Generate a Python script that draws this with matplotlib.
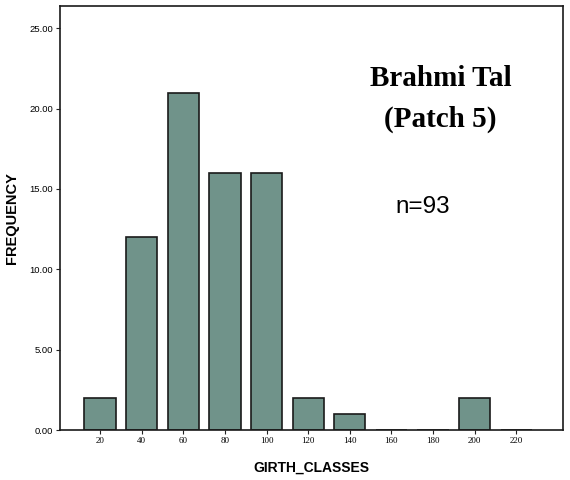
import matplotlib
matplotlib.use("Agg")
import matplotlib.pyplot as plt

# girth classes and frequency counts
girth_classes = [20, 40, 60, 80, 100, 120, 140, 160, 180, 200, 220]
frequency = [2, 12, 21, 16, 16, 2, 1, 0, 0, 2, 0]
y_ticks = [0, 5, 10, 15, 20, 25]

bar_color = "#70938a"

fig = plt.figure(figsize=(5.7, 4.8), dpi=100)
ax = fig.add_axes([0.105, 0.104, 0.883, 0.884])

ax.bar(girth_classes, frequency, width=15, color=bar_color,
       edgecolor="#1a1a1a", linewidth=1.2, zorder=2)

ax.set_xlim(0.7, 242.5)
ax.set_ylim(0, 26.4)
ax.set_xticks(girth_classes)
ax.set_xticklabels([str(g) for g in girth_classes], fontsize=6.5, family="Liberation Serif")
ax.set_yticks(y_ticks)
ax.set_yticklabels([f"{v:.2f}" for v in y_ticks], fontsize=6.8, family="Liberation Sans")
ax.tick_params(axis="both", length=3, width=0.8, color="#222222", pad=2)

for side in ["left", "right", "top", "bottom"]:
    ax.spines[side].set_linewidth(1.2)
    ax.spines[side].set_color("#1a1a1a")

ax.set_xlabel("GIRTH_CLASSES", fontsize=10, fontweight="bold", family="Liberation Sans", labelpad=11)
ax.set_ylabel("FREQUENCY", fontsize=10.5, fontweight="bold", family="Liberation Sans", labelpad=7)

ax.text(0.774, 0.837, "Brahmi Tal", transform=fig.transFigure,
        ha="center", va="center", fontsize=21, fontweight="bold",
        family="Liberation Serif")
ax.text(0.772, 0.752, "(Patch 5)", transform=fig.transFigure,
        ha="center", va="center", fontsize=21, fontweight="bold",
        family="Liberation Serif")
ax.text(0.742, 0.569, "n=93", transform=fig.transFigure,
        ha="center", va="center", fontsize=17.5, family="Liberation Sans")

fig.savefig("out.png", dpi=100)
